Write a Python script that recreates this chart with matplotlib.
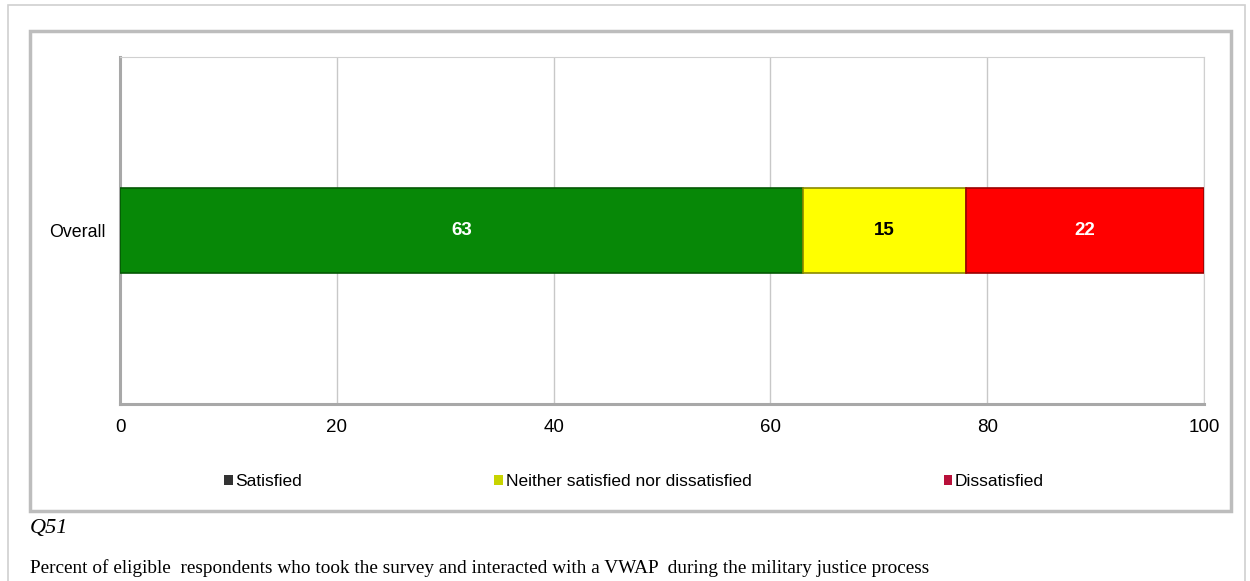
import matplotlib.pyplot as plt
from matplotlib.patches import Rectangle, Patch

categories = ['Overall']
series = ['Satisfied', 'Neither satisfied nor dissatisfied', 'Dissatisfied']
values = [[63], [15], [22]]
xticks = [0, 20, 40, 60, 80, 100]

bar_colors = ['#078807', '#FFFF00', '#FF0000']
edge_colors = ['#045804', '#8a8a00', '#9a0000']
label_colors = ['white', 'black', 'white']
legend_colors = ['#333333', '#c8d400', '#b8103a']

plt.rcParams['font.family'] = ['Liberation Sans', 'DejaVu Sans']

fig = plt.figure(figsize=(12.5, 5.81), dpi=100)
W, H = 1250, 581

# outer page line and chart frame
fig.patches.append(Rectangle((8 / W, -0.1), (1245 - 8) / W, 1.1 - 5 / H,
                             transform=fig.transFigure, fill=False,
                             edgecolor='#d0d0d0', linewidth=1.2))
fig.patches.append(Rectangle((30 / W, 1 - 511 / H), (1231 - 30) / W, (511 - 31) / H,
                             transform=fig.transFigure, fill=False,
                             edgecolor='#bdbdbd', linewidth=2.5))

ax = fig.add_axes([120 / W, 1 - 404 / H, (1204 - 120) / W, (404 - 57) / H])

left = 0
for i, name in enumerate(series):
    v = values[i][0]
    ax.barh(0, v, left=left, height=0.49, color=bar_colors[i],
            edgecolor=edge_colors[i], linewidth=1.2, zorder=3)
    ax.text(left + v / 2, 0, str(v), ha='center', va='center',
            color=label_colors[i], fontsize=13.5, fontweight='bold', zorder=4)
    left += v

ax.set_xlim(0, 100)
ax.set_ylim(-1, 1)
ax.set_xticks(xticks)
ax.set_xticklabels([str(t) for t in xticks], fontsize=13.5)
ax.set_yticks([0])
ax.set_yticklabels(categories, fontsize=12.8)
ax.tick_params(axis='x', length=0, pad=11)
ax.tick_params(axis='y', length=0, pad=10.5)
ax.grid(axis='x', color='#c8c8c8', linewidth=1, zorder=0)

ax.spines['left'].set_color('#a8a8a8')
ax.spines['left'].set_linewidth(2.2)
ax.spines['bottom'].set_color('#a8a8a8')
ax.spines['bottom'].set_linewidth(2.2)
ax.spines['top'].set_color('#d0d0d0')
ax.spines['right'].set_color('#d0d0d0')

handles = [Patch(facecolor=c, edgecolor='none') for c in legend_colors]
fig.legend(handles, series, loc='lower left', ncol=3, mode='expand',
           bbox_to_anchor=(224 / W, 1 - 489 / H, (1044 - 224) / W, 0.03),
           frameon=False, fontsize=12.5, handlelength=0.5, handleheight=0.5,
           handletextpad=0.15, borderaxespad=0, borderpad=0)

fig.text(30 / W, 1 - 529 / H, 'Q51', fontsize=16, style='italic',
         family=['Liberation Serif', 'DejaVu Serif'], va='center', ha='left')
fig.text(30 / W, 1 - 568 / H,
         'Percent of eligible  respondents who took the survey and interacted with a VWAP  during the military justice process',
         fontsize=13.9, family=['Liberation Serif', 'DejaVu Serif'], va='center', ha='left')

fig.savefig('out.png', dpi=100)
